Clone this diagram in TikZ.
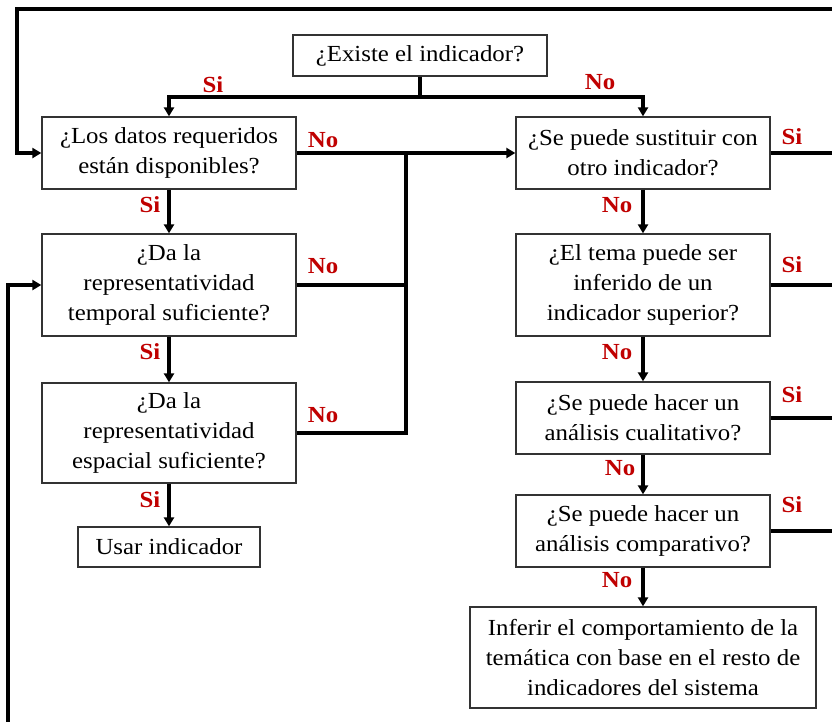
\documentclass[tikz,border=0pt]{standalone}
\usepackage{fontspec}
\setmainfont[FakeStretch=1.08]{Liberation Serif}
\usetikzlibrary{arrows.meta}
\definecolor{rojo}{RGB}{192,0,0}

\begin{document}
\begin{tikzpicture}[x=1pt, y=-1pt,
		caja/.style={draw=black!80, line width=1.3pt, align=center, inner sep=0pt, font=\fontsize{23}{30}\selectfont},
		etiqueta/.style={text=rojo, font=\fontsize{23}{28}\selectfont\bfseries},
		linea/.style={line width=3.2pt},
		flecha/.style={line width=3.2pt, -{Triangle[length=9pt,width=10pt]}}]
		%%%%% START %%%%%
		
		\fill[white] (0, 0) rectangle (832, 721);
		\useasboundingbox (0, 0) rectangle (832, 721);
		
		\node[caja, minimum width=254pt, minimum height=41pt] (existe) at (420, 55.5) {¿Existe el indicador?};
		
		\node[caja, minimum width=254pt, minimum height=72pt] (datos) at (169, 153) {¿Los datos requeridos\\están disponibles?};
		\node[caja, minimum width=254pt, minimum height=102pt] (temporal) at (169, 285) {¿Da la\\representatividad\\temporal suficiente?};
		\node[caja, minimum width=254pt, minimum height=100pt] (espacial) at (169, 433) {¿Da la\\representatividad\\espacial suficiente?};
		\node[caja, minimum width=182pt, minimum height=40pt] (usar) at (169, 547) {Usar indicador};
		
		\node[caja, minimum width=254pt, minimum height=72pt] (sustituir) at (643, 153) {¿Se puede sustituir con\\otro indicador?};
		\node[caja, minimum width=254pt, minimum height=102pt] (tema) at (643, 285) {¿El tema puede ser\\inferido de un\\indicador superior?};
		\node[caja, minimum width=254pt, minimum height=72pt] (cualitativo) at (643, 418) {¿Se puede hacer un\\análisis cualitativo?};
		\node[caja, minimum width=254pt, minimum height=72pt] (comparativo) at (643, 531) {¿Se puede hacer un\\análisis comparativo?};
		\node[caja, minimum width=346pt, minimum height=101pt] (inferir) at (643, 657.5) {Inferir el comportamiento de la\\temática con base en el resto de\\indicadores del sistema};
		
		\coordinate (bif) at (420, 97);
		\coordinate (colector) at (406, 153);
		\coordinate (esqder) at (836, 9);
		\coordinate (esqizq) at (17, 9);
		\coordinate (abajo) at (8, 740);
		
		\draw[linea] (existe) -- (bif);
		\draw[flecha] (bif) -| (datos);
		\draw[flecha] (bif) -| (sustituir);
		\draw[flecha] (datos) -- (sustituir);
		
		\draw[flecha] (datos) -- (temporal);
		\draw[flecha] (temporal) -- (espacial);
		\draw[flecha] (espacial) -- (usar);
		\draw[linea] (temporal.east) -| (colector);
		\draw[linea] (espacial.east) -| (colector);
		
		\draw[flecha] (sustituir) -- (tema);
		\draw[flecha] (tema) -- (cualitativo);
		\draw[flecha] (cualitativo) -- (comparativo);
		\draw[flecha] (comparativo) -- (inferir);
		
		\draw[linea] (sustituir.east) -| (esqder);
		\draw[linea] (tema.east) -| (esqder);
		\draw[linea] (cualitativo.east) -| (esqder);
		\draw[linea] (comparativo.east) -| (esqder);
		\draw[flecha] (esqder) -- (esqizq) |- (datos.west);
		\draw[flecha] (abajo) |- (temporal.west);
		
		\node[etiqueta] (si1) at (213, 85) {Si};
		\node[etiqueta] (no1) at (600, 82) {No};
		\node[etiqueta] (no2) at (323, 140) {No};
		\node[etiqueta] (si2) at (792, 137) {Si};
		\node[etiqueta] (si3) at (150, 205) {Si};
		\node[etiqueta] (no3) at (617, 205) {No};
		\node[etiqueta] (no4) at (323, 266) {No};
		\node[etiqueta] (si4) at (792, 265) {Si};
		\node[etiqueta] (si5) at (150, 352) {Si};
		\node[etiqueta] (no5) at (617, 352) {No};
		\node[etiqueta] (no6) at (323, 415) {No};
		\node[etiqueta] (si6) at (792, 395) {Si};
		\node[etiqueta] (si7) at (150, 500) {Si};
		\node[etiqueta] (no7) at (620, 468) {No};
		\node[etiqueta] (si8) at (792, 505) {Si};
		\node[etiqueta] (no8) at (617, 580) {No};
		
		%%%%% END %%%%%
	\end{tikzpicture}
\end{document}
